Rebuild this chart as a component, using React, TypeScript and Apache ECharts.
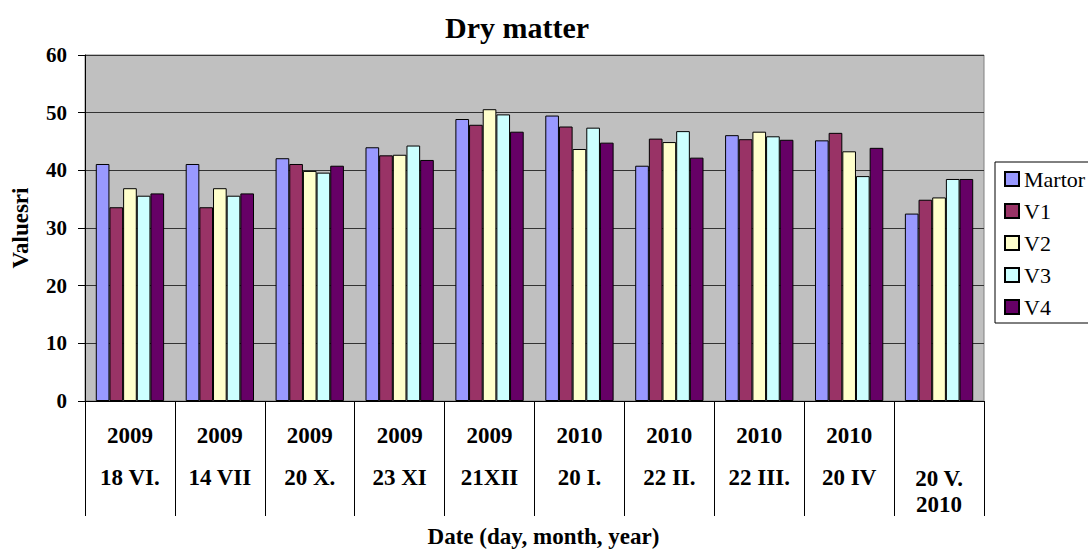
import React, { useEffect, useRef } from "react";
import * as echarts from "echarts";

const categories = [
  "2009\n18 VI.",
  "2009\n14 VII",
  "2009\n20 X.",
  "2009\n23 XI",
  "2009\n21XII",
  "2010\n20 I.",
  "2010\n22 II.",
  "2010\n22 III.",
  "2010\n20 IV",
  "\n20 V.\n2010",
];

const seriesNames = ["Martor", "V1", "V2", "V3", "V4"];
const martor = [41.1, 41.1, 42.1, 44.0, 48.9, 49.5, 40.8, 46.1, 45.2, 32.5];
const v1 = [33.6, 33.6, 41.1, 42.6, 47.9, 47.6, 45.5, 45.4, 46.5, 34.9];
const v2 = [36.9, 36.9, 39.9, 42.7, 50.6, 43.7, 44.9, 46.7, 43.3, 35.3];
const v3 = [35.6, 35.6, 39.6, 44.3, 49.7, 47.4, 46.8, 45.9, 39.0, 38.5];
const v4 = [36.0, 36.0, 40.8, 41.8, 46.7, 44.8, 42.2, 45.3, 43.9, 38.5];
const colors = ["#9999FF", "#993366", "#FFFFCC", "#CCFFFF", "#660066"];

const FONT = "Liberation Serif";

export default function App() {
  const ref = useRef<HTMLDivElement>(null);
  useEffect(() => {
    if (!ref.current) return;
    const chart = echarts.init(ref.current, null, { renderer: "svg" });
    const dataSets = [martor, v1, v2, v3, v4];
    const labelStyle = { fontFamily: FONT, fontWeight: "bold" as const, fontSize: 23, color: "#000" };
    chart.setOption({
      animation: false,
      backgroundColor: "#fff",
      textStyle: { fontFamily: FONT },
      title: {
        text: "Dry matter",
        left: 445,
        top: 12,
        padding: 0,
        textStyle: { fontFamily: FONT, fontWeight: "bold", fontSize: 30, color: "#000" },
      },
      legend: {
        orient: "vertical",
        left: 995,
        top: 162,
        padding: [6, 10, 5, 9],
        itemGap: 10,
        itemWidth: 14,
        itemHeight: 14,
        icon: "rect",
        borderColor: "#000",
        borderWidth: 1,
        backgroundColor: "#fff",
        borderRadius: 0,
        data: seriesNames,
        formatter: (name: string) => `{t|${name}}`,
        textStyle: {
          fontFamily: FONT,
          fontSize: 22,
          color: "#000",
          lineHeight: 22,
          rich: { t: { fontFamily: FONT, fontSize: 22, color: "#000", lineHeight: 22 } },
        },
      },
      grid: {
        left: 85,
        right: 104,
        top: 55,
        bottom: 150,
        show: true,
        backgroundColor: "#C0C0C0",
        borderColor: "#808080",
        borderWidth: 1,
      },
      xAxis: {
        type: "category",
        data: categories,
        boundaryGap: true,
        name: "Date (day, month, year)",
        nameLocation: "middle",
        nameGap: 124,
        nameTextStyle: { ...labelStyle, padding: [0, 0, 0, 18] },
        axisLine: { show: true, lineStyle: { color: "#000", width: 1 } },
        axisTick: { show: true, length: 115, interval: 0, lineStyle: { color: "#000", width: 1 } },
        axisLabel: {
          interval: 0,
          margin: 13,
          formatter: (value: string) => {
            const parts = value.split("\n");
            if (parts.length === 3) return `{s| }\n{e|${parts[1]}}\n{e|${parts[2]}}`;
            return `{y|${parts[0]}}\n{d|${parts[1]}}`;
          },
          rich: {
            y: { ...labelStyle, lineHeight: 42 },
            d: { ...labelStyle, lineHeight: 42 },
            s: { ...labelStyle, lineHeight: 51 },
            e: { ...labelStyle, lineHeight: 26 },
          },
        },
        splitLine: { show: false },
      },
      yAxis: {
        type: "value",
        min: 0,
        max: 60,
        interval: 10,
        name: "Valuesri",
        nameLocation: "middle",
        nameRotate: 90,
        nameGap: 53,
        nameTextStyle: labelStyle,
        axisLine: { show: true, lineStyle: { color: "#000", width: 1 } },
        axisTick: { show: true, inside: false, length: 7, lineStyle: { color: "#000" } },
        axisLabel: { margin: 18, fontFamily: FONT, fontWeight: "bold", fontSize: 21, color: "#000" },
        splitLine: { show: true, lineStyle: { color: "#333", width: 1 } },
      },
      series: seriesNames.map((name, i) => ({
        name,
        type: "bar",
        data: dataSets[i],
        barGap: "0%",
        barCategoryGap: "24%",
        itemStyle: { color: colors[i], borderColor: "#000", borderWidth: 1 },
      })),
    });
    return () => chart.dispose();
  }, []);
  return (
    <div
      ref={ref}
      style={{ position: "fixed", left: 0, top: 0, width: 1088, height: 553 }}
    />
  );
}
